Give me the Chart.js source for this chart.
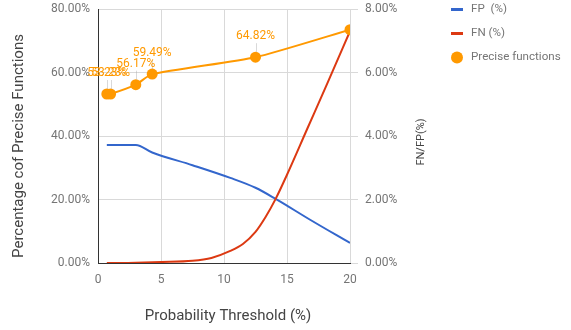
<!DOCTYPE html>
<html>
<head>
<meta charset="utf-8">
<script src="https://cdn.jsdelivr.net/npm/chart.js@4"></script>
<style>
html,body{margin:0;padding:0;background:#fff;}
#wrap{width:571px;height:330px;position:relative;}
</style>
</head>
<body>
<div id="wrap"><canvas id="c" width="571" height="330"></canvas></div>
<script>
// ---- data ----
const thresholdsFP = [0.7, 1, 3, 4.3, 7.5, 10.5, 12.5, 14.1, 16.8, 20];
const fpValues     = [3.72, 3.72, 3.72, 3.48, 3.08, 2.68, 2.37, 2.02, 1.37, 0.63];
const thresholdsFN = [0.7, 1, 3, 5, 7.5, 9, 10.5, 11.5, 12.5, 13.3, 14.1, 15, 16.6, 18.2, 20];
const fnValues     = [0.00, 0.00, 0.01, 0.03, 0.07, 0.16, 0.38, 0.60, 0.98, 1.45, 2.02, 2.78, 4.22, 5.66, 7.30];
const thresholdsPrecise = [0.7, 1, 3, 4.3, 12.5, 20];
const preciseValues     = [53.23, 53.23, 56.17, 59.49, 64.82, 73.5];
const preciseLabels     = ["53.23%", "53.23%", "56.17%", "59.49%", "64.82%", null];
const xTicks  = [0, 5, 10, 15, 20];
const leftTicks  = [0, 20, 40, 60, 80];
const rightTicks = [0, 2, 4, 6, 8];
const seriesNames = ["FP  (%)", "FN (%)", "Precise functions"];
const xTitle = "Probability Threshold (%)";
const leftTitle = "Percentage cof Precise Functions";
const rightTitle = "FN/FP(%)";

const BLUE = "#3366CC", RED = "#DC3912", ORANGE = "#FF9900";
const FONT = "Roboto, 'Noto Sans', Arial, sans-serif";
const TICKCOL = "#757575";

const pts = (xs, ys) => xs.map((x, i) => ({x: x, y: ys[i]}));

const decorPlugin = {
  id: 'decor',
  afterDatasetsDraw(chart) {
    const ctx = chart.ctx;
    const meta = chart.getDatasetMeta(2);
    ctx.save();
    ctx.font = "12px " + FONT;
    ctx.textAlign = "center";
    ctx.textBaseline = "middle";
    meta.data.forEach((el, i) => {
      const lbl = preciseLabels[i];
      if (!lbl) return;
      const ly = el.y - 21;
      ctx.strokeStyle = "rgba(170,170,170,0.45)";
      ctx.lineWidth = 1;
      ctx.beginPath();
      ctx.moveTo(Math.round(el.x) + 0.5, ly + 7);
      ctx.lineTo(Math.round(el.x) + 0.5, el.y - 5);
      ctx.stroke();
    });
    meta.data.forEach((el, i) => {
      const lbl = preciseLabels[i];
      if (!lbl) return;
      ctx.fillStyle = ORANGE;
      ctx.fillText(lbl, el.x, el.y - 21);
    });
    ctx.restore();
  },
  afterDraw(chart) {
    const ctx = chart.ctx;
    ctx.save();
    // axis titles
    ctx.fillStyle = "#444";
    ctx.font = "15px " + FONT;
    ctx.textAlign = "center";
    ctx.textBaseline = "middle";
    ctx.fillText(xTitle, 228, 316);
    ctx.save();
    ctx.translate(19, 146);
    ctx.rotate(-Math.PI / 2);
    ctx.fillText(leftTitle, 0, 0);
    ctx.restore();
    ctx.save();
    ctx.font = "11px " + FONT;
    ctx.translate(421, 142);
    ctx.rotate(-Math.PI / 2);
    ctx.fillText(rightTitle, 0, 0);
    ctx.restore();
    // legend
    ctx.font = "11.6px " + FONT;
    ctx.textAlign = "left";
    const ly = [9.5, 33.5, 57.5];
    ctx.lineWidth = 3;
    ctx.strokeStyle = BLUE;
    ctx.beginPath(); ctx.moveTo(451, ly[0]); ctx.lineTo(463, ly[0]); ctx.stroke();
    ctx.strokeStyle = RED;
    ctx.beginPath(); ctx.moveTo(451, ly[1]); ctx.lineTo(463, ly[1]); ctx.stroke();
    ctx.fillStyle = ORANGE;
    ctx.beginPath(); ctx.arc(457, ly[2], 6, 0, Math.PI * 2); ctx.fill();
    ctx.fillStyle = TICKCOL;
    seriesNames.forEach((n, i) => ctx.fillText(n, 471, ly[i]));
    ctx.restore();
  }
};

function vFit(w) {
  return function (s) { s.width = w; s.paddingTop = 0; s.paddingBottom = 0; };
}

new Chart(document.getElementById('c'), {
  type: 'line',
  data: {
    datasets: [
      { label: seriesNames[0], data: pts(thresholdsFP, fpValues), yAxisID: 'y2',
        borderColor: BLUE, backgroundColor: BLUE, borderWidth: 2, pointRadius: 0,
        cubicInterpolationMode: 'monotone', order: 2 },
      { label: seriesNames[1], data: pts(thresholdsFN, fnValues), yAxisID: 'y2',
        borderColor: RED, backgroundColor: RED, borderWidth: 2, pointRadius: 0,
        cubicInterpolationMode: 'monotone', order: 1 },
      { label: seriesNames[2], data: pts(thresholdsPrecise, preciseValues), yAxisID: 'y',
        borderColor: ORANGE, backgroundColor: ORANGE, borderWidth: 2, pointRadius: 5.5,
        pointBorderWidth: 0, tension: 0.2, order: 0 }
    ]
  },
  options: {
    responsive: false,
    animation: false,
    layout: { padding: { top: 9, left: 0, right: 0, bottom: 0 } },
    plugins: { legend: { display: false }, tooltip: { enabled: false } },
    scales: {
      x: {
        type: 'linear', min: xTicks[0], max: xTicks[xTicks.length - 1],
        afterFit(s) { s.height = 67; s.paddingLeft = 0; s.paddingRight = 0; },
        afterBuildTicks(s) { s.ticks = xTicks.map(v => ({value: v})); },
        grid: { color: '#d9d9d9', drawTicks: false },
        border: { color: '#333', width: 1 },
        ticks: { color: TICKCOL, font: { family: FONT, size: 12 }, padding: 10 }
      },
      y: {
        position: 'left', min: leftTicks[0], max: leftTicks[leftTicks.length - 1],
        afterFit: vFit(98),
        afterBuildTicks(s) { s.ticks = leftTicks.map(v => ({value: v})); },
        grid: { color: '#d9d9d9', drawTicks: false },
        border: { color: '#333', width: 1 },
        ticks: { color: TICKCOL, font: { family: FONT, size: 12 }, padding: 8,
                 callback: v => v.toFixed(2) + '%' }
      },
      y2: {
        position: 'right', min: rightTicks[0], max: rightTicks[rightTicks.length - 1],
        afterFit: vFit(221),
        afterBuildTicks(s) { s.ticks = rightTicks.map(v => ({value: v})); },
        grid: { drawOnChartArea: false, drawTicks: true, tickLength: 8, color: '#d9d9d9' },
        border: { display: false },
        ticks: { color: TICKCOL, font: { family: FONT, size: 12 }, padding: 7,
                 callback: v => v.toFixed(2) + '%' }
      }
    }
  },
  plugins: [decorPlugin]
});
</script>
</body>
</html>
